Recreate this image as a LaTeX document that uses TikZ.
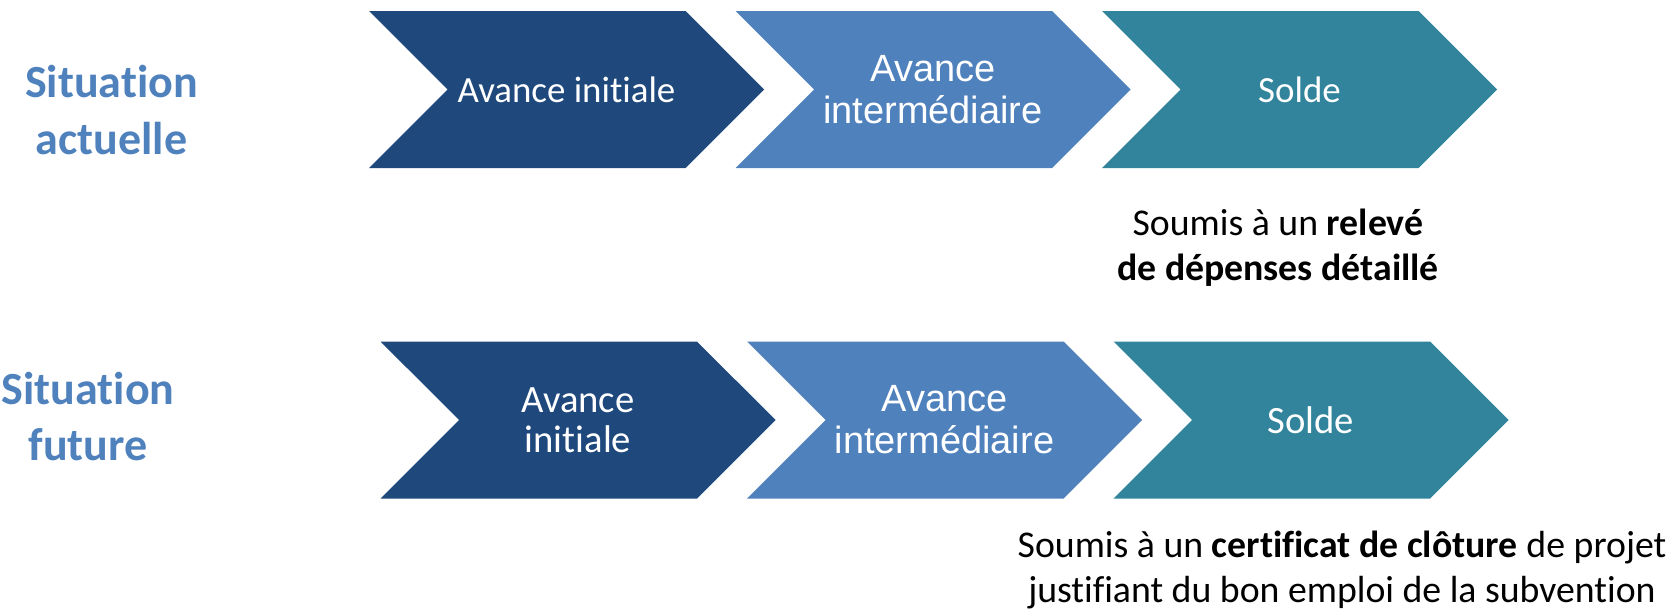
\documentclass[tikz,border=0pt]{standalone}
\usepackage{fontspec}
\setmainfont[Ligatures=NoCommon]{Carlito}
\newfontfamily\arialfont{Liberation Sans}
\usetikzlibrary{shapes.symbols}
\usetikzlibrary{positioning}
\definecolor{darkblue}{HTML}{1F497D}
\definecolor{midblue}{HTML}{4F81BD}
\definecolor{soldeteal}{HTML}{31849B}
\tikzset{chevron node/.style={signal, signal from=west, signal to=east, signal pointer angle=90, minimum width=7.9cm, minimum height=3.14cm, inner sep=0pt, text=white, align=center, font=\fontsize{21}{23}\selectfont},}
\tikzset{initial node/.style={chevron node, fill=darkblue},}
\tikzset{inter node/.style={chevron node, fill=midblue, font=\arialfont\fontsize{21.6}{24}\selectfont},}
\tikzset{solde node/.style={chevron node, fill=soldeteal},}
\tikzset{big text/.style={font=\fontsize{22}{23}\selectfont},}
\tikzset{situation label/.style={text=midblue, align=center, font=\bfseries\fontsize{26.2}{32}\selectfont},}
\tikzset{note label/.style={align=center, font=\fontsize{21.5}{25.5}\selectfont},}

\begin{document}
\begin{tikzpicture}[node distance=7.33cm, on grid]
     \useasboundingbox (0,0) rectangle (33.36,-12.18);
     \node[initial node] (ai1) at (11.33,-1.79) {Avance initiale};
     \node[inter node] (am1) [right=of ai1] {Avance\\intermédiaire};
     \node[solde node] (so1) [right=of am1] {Solde};
     \node[situation label] (sa) [below left=0.41cm and 9.1cm of ai1] {Situation\\actuelle};
     \node[note label] (n1) [below left=3.16cm and 0.43cm of so1] {Soumis à un \textbf{relevé}\\\textbf{de dépenses détaillé}};

     \node[initial node, big text] (ai2) [below right=6.61cm and 0.23cm of ai1] {Avance\\initiale};
     \node[inter node] (am2) [right=of ai2] {Avance\\intermédiaire};
     \node[solde node, big text] (so2) [right=of am2] {Solde};
     \node[situation label] (sf) [above left=0.07cm and 9.8cm of ai2] {Situation\\future};
     \node[note label, font=\fontsize{21.5}{25.5}\selectfont] (n2) [below right=3.0cm and 0.62cm of so2] {Soumis à un \textbf{certificat de clôture} de projet\\justifiant du bon emploi de la subvention};
  \end{tikzpicture}
\end{document}
